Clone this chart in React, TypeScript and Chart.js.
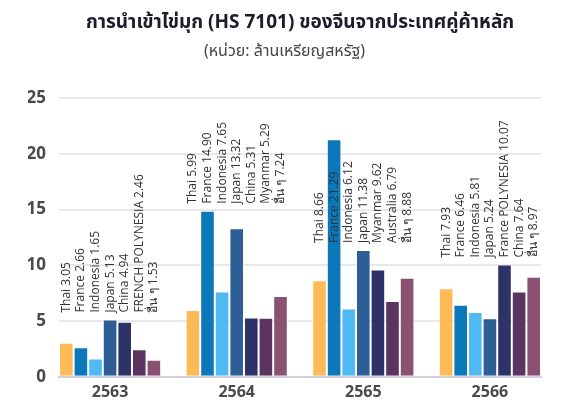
import React, { useEffect, useRef } from 'react';
import { Chart, registerables } from 'chart.js';

Chart.register(...registerables);

const years = ['2563', '2564', '2565', '2566'];
const yTicks = [0, 5, 10, 15, 20, 25];

const series1Names = ['Thai', 'Thai', 'Thai', 'Thai'];
const series1Values = [3.05, 5.99, 8.66, 7.93];
const series2Names = ['France', 'France', 'France', 'France'];
const series2Values = [2.66, 14.9, 21.29, 6.46];
const series3Names = ['Indonesia', 'Indonesia', 'Indonesia', 'Indonesia'];
const series3Values = [1.65, 7.65, 6.12, 5.81];
const series4Names = ['Japan', 'Japan', 'Japan', 'Japan'];
const series4Values = [5.13, 13.32, 11.38, 5.24];
const series5Names = ['China', 'China', 'Myanmar', 'France POLYNESIA'];
const series5Values = [4.94, 5.31, 9.62, 10.07];
const series6Names = ['FRENCH POLYNESIA', 'Myanmar', 'Australia', 'China'];
const series6Values = [2.46, 5.29, 6.79, 7.64];
const series7Names = ['อื่น ๆ', 'อื่น ๆ', 'อื่น ๆ', 'อื่น ๆ'];
const series7Values = [1.53, 7.24, 8.88, 8.97];

const seriesColors = ['#FDBA57', '#0B78BA', '#4FB9F2', '#2D5E96', '#2D3267', '#5C3462', '#8A5171'];

const seriesList = [
  { names: series1Names, values: series1Values },
  { names: series2Names, values: series2Values },
  { names: series3Names, values: series3Values },
  { names: series4Names, values: series4Values },
  { names: series5Names, values: series5Values },
  { names: series6Names, values: series6Values },
  { names: series7Names, values: series7Values },
];

const GROUP_FRAC = 0.807;
const LABEL_GAP = 7;
const LABEL_FONT = '12px "Open Sans", "Noto Sans", sans-serif';

const barLabelPlugin = {
  id: 'barLabels',
  afterDatasetsDraw(chart: any) {
    const ctx = chart.ctx;
    const area = chart.chartArea;
    ctx.save();
    ctx.font = LABEL_FONT;
    ctx.fillStyle = '#333333';
    ctx.textAlign = 'left';
    ctx.textBaseline = 'middle';
    for (let g = 0; g < years.length; g++) {
      const items = seriesList.map((s, i) => ({
        text: `${s.names[g]} ${s.values[g].toFixed(2)}`,
        bar: chart.getDatasetMeta(i).data[g],
      }));
      const maxW = Math.max(...items.map((it) => ctx.measureText(it.text).width));
      const tops = items.map((it) => it.bar.y).sort((a: number, b: number) => a - b);
      let anchor = tops[tops.length - 1];
      for (const t of tops) {
        if (t - LABEL_GAP - maxW >= area.top) {
          anchor = t;
          break;
        }
      }
      items.forEach((it) => {
        ctx.save();
        ctx.translate(it.bar.x, anchor - LABEL_GAP);
        ctx.rotate(-Math.PI / 2);
        ctx.fillText(it.text, 0, 0);
        ctx.restore();
      });
    }
    ctx.restore();
  },
};

export default function App() {
  const canvasRef = useRef<HTMLCanvasElement | null>(null);

  useEffect(() => {
    if (!canvasRef.current) return;
    const chart = new Chart(canvasRef.current, {
      type: 'bar',
      data: {
        labels: years,
        datasets: seriesList.map((s, i) => ({
          label: `series${i + 1}`,
          data: s.values,
          backgroundColor: seriesColors[i],
          borderColor: 'rgba(255,255,255,0.55)',
          borderWidth: 1,
          barPercentage: 1,
          categoryPercentage: GROUP_FRAC,
        })),
      },
      options: {
        animation: false,
        responsive: false,
        maintainAspectRatio: false,
        layout: { padding: { left: 20, right: 13, top: 0, bottom: 4 } },
        plugins: {
          legend: { display: false },
          tooltip: { enabled: false },
          title: {
            display: true,
            fullSize: false,
            text: 'การนำเข้าไข่มุก (HS 7101) ของจีนจากประเทศคู่ค้าหลัก',
            color: '#1c1c2a',
            font: { family: '"Noto Sans", "Noto Sans Thai", sans-serif', size: 19, weight: 'bold' },
            padding: { top: 3, bottom: 8 },
          },
          subtitle: {
            display: true,
            text: '(หน่วย: ล้านเหรียญสหรัฐ)',
            color: '#444444',
            font: { family: '"Noto Sans", "Noto Sans Thai", sans-serif', size: 16, weight: 'normal' },
            padding: { top: 0, bottom: 37 },
          },
        },
        scales: {
          x: {
            grid: { display: false, drawTicks: false },
            border: { display: true, color: '#d2d0da', width: 2 },
            ticks: {
              color: '#4a4a4a',
              padding: 6,
              font: { family: '"Open Sans", sans-serif', size: 16, weight: 'bold' },
            },
            afterBuildTicks: (scale: any) => {
              scale._startValue = -GROUP_FRAC / 2;
              scale._valueRange = years.length - 1 + GROUP_FRAC;
            },
          },
          y: {
            min: yTicks[0],
            max: yTicks[yTicks.length - 1],
            grid: { color: '#e8e8e8', lineWidth: 2, drawTicks: false },
            border: { display: false },
            ticks: {
              stepSize: yTicks[1] - yTicks[0],
              color: '#4a4a4a',
              padding: 13,
              font: { family: '"Open Sans", sans-serif', size: 17, weight: 'bold' },
            },
            afterFit: (scale: any) => {
              scale.width = 31;
            },
          },
        },
      },
      plugins: [barLabelPlugin],
    });
    return () => chart.destroy();
  }, []);

  return (
    <div style={{ width: 546, height: 404 }}>
      <canvas ref={canvasRef} width={546} height={404} style={{ width: 546, height: 404 }} />
    </div>
  );
}
